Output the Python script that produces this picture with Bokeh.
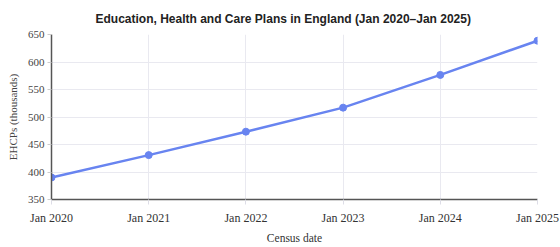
from bokeh.plotting import figure
from bokeh.models import Range1d, FixedTicker
from bokeh.embed import file_html
from bokeh.resources import INLINE

# EHCP counts at each January census (thousands)
years = [2020, 2021, 2022, 2023, 2024, 2025]
tick_labels = ["Jan 2020", "Jan 2021", "Jan 2022", "Jan 2023", "Jan 2024", "Jan 2025"]
ehcps = [390.1, 430.7, 473.3, 517.0, 576.5, 638.7]
y_ticks = [350, 400, 450, 500, 550, 600, 650]

LINE = "#6884f0"
SERIF = "Liberation Serif"

p = figure(width=560, height=247, output_backend="svg", toolbar_location=None,
           x_range=Range1d(2020, 2025), y_range=Range1d(350, 650),
           min_border_left=51, min_border_right=23, min_border_top=0, min_border_bottom=48)

p.title.text = "Education, Health and Care Plans in England (Jan 2020\u2013Jan 2025)"
p.title.text_font = "Liberation Sans"
p.title.text_font_size = "12px"
p.title.text_font_style = "bold"
p.title.text_color = "#222222"
p.title.align = "left"
p.title.offset = 44
p.title.standoff = 18

p.outline_line_color = None
p.background_fill_color = "white"
p.border_fill_color = "white"

p.line(years, ehcps, line_color=LINE, line_width=2.5)
p.scatter(years, ehcps, size=7, fill_color=LINE, line_color=LINE)

# grid
p.xgrid.ticker = FixedTicker(ticks=years)
p.ygrid.ticker = FixedTicker(ticks=y_ticks)
for g in (p.xgrid, p.ygrid):
    g.grid_line_color = "#e9e9f0"
    g.grid_line_width = 1

# x axis
xa = p.xaxis[0]
xa.ticker = FixedTicker(ticks=years)
xa.major_label_overrides = {y: lab for y, lab in zip(years, tick_labels)}
xa.axis_label = "Census date"
xa.axis_label_text_font = SERIF
xa.axis_label_text_font_style = "normal"
xa.axis_label_text_font_size = "11.5px"
xa.axis_label_text_color = "#333333"
xa.axis_label_standoff = 4
xa.major_label_text_font = SERIF
xa.major_label_text_font_size = "12px"
xa.major_label_text_color = "#333333"
xa.major_label_standoff = 6
xa.axis_line_color = "#555555"
xa.axis_line_width = 1.5
xa.major_tick_line_color = "#dddde6"
xa.major_tick_out = 5
xa.major_tick_in = 0
xa.minor_tick_line_color = None

# y axis
ya = p.yaxis[0]
ya.ticker = FixedTicker(ticks=y_ticks)
ya.axis_label = "EHCPs (thousands)"
ya.axis_label_text_font = SERIF
ya.axis_label_text_font_style = "normal"
ya.axis_label_text_font_size = "11px"
ya.axis_label_text_color = "#444444"
ya.axis_label_standoff = 6
ya.major_label_text_font = SERIF
ya.major_label_text_font_size = "11px"
ya.major_label_text_color = "#444444"
ya.major_label_standoff = 3
ya.axis_line_color = "#555555"
ya.axis_line_width = 1.5
ya.major_tick_line_color = "#cccccc"
ya.major_tick_out = 4
ya.major_tick_in = 0
ya.minor_tick_line_color = None

open("out.html", "w").write(file_html(p, INLINE))
